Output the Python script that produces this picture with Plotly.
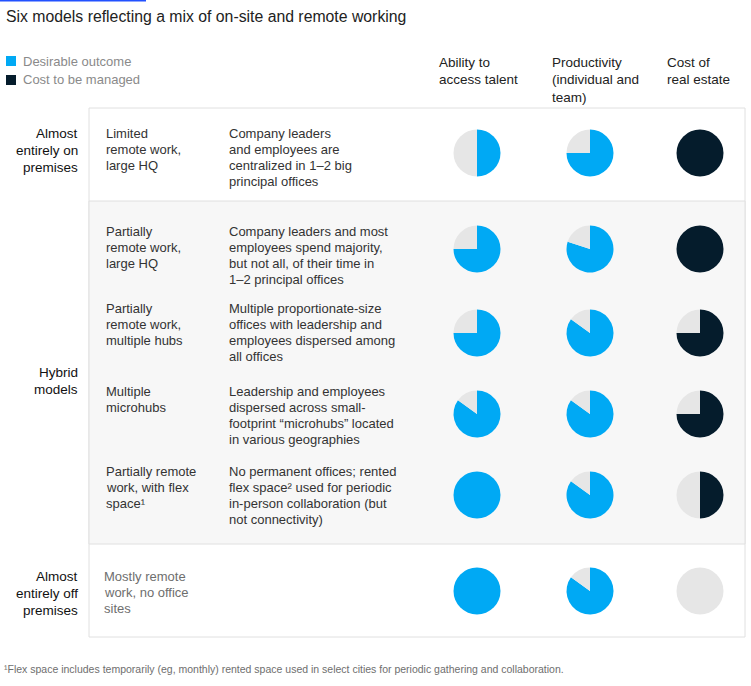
import plotly.graph_objects as go

W, H = 751, 686

# ---------------- data ----------------
title = "Six models reflecting a mix of on-site and remote working"
legend_labels = ["Desirable outcome", "Cost to be managed"]
metric_headers = [
    ["Ability to", "access talent"],
    ["Productivity", "(individual and", "team)"],
    ["Cost of", "real estate"],
]
group_labels = [
    ["Almost", "entirely on", "premises"],
    ["Hybrid", "models"],
    ["Almost", "entirely off", "premises"],
]
model_names = [
    ["Limited", "remote work,", "large HQ"],
    ["Partially", "remote work,", "large HQ"],
    ["Partially", "remote work,", "multiple hubs"],
    ["Multiple", "microhubs"],
    ["Partially remote", "work, with flex", "space¹"],
    ["Mostly remote", "work, no office", "sites"],
]
model_descs = [
    ["Company leaders", "and employees are", "centralized in 1–2 big", "principal offices"],
    ["Company leaders and most", "employees spend majority,", "but not all, of their time in", "1–2 principal offices"],
    ["Multiple proportionate-size", "offices with leadership and", "employees dispersed among", "all offices"],
    ["Leadership and employees", "dispersed across small-", "footprint “microhubs” located", "in various geographies"],
    ["No permanent offices; rented", "flex space² used for periodic", "in-person collaboration (but", "not connectivity)"],
    [],
]
# share of each pie filled (desirable outcome / cost to be managed)
talent = [0.5, 0.75, 0.75, 0.85, 1.0, 1.0]
productivity = [0.75, 0.8, 0.85, 0.85, 0.85, 0.85]
real_estate_cost = [1.0, 1.0, 0.75, 0.75, 0.5, 0.0]
footnote = "¹Flex space includes temporarily (eg, monthly) rented space used in select cities for periodic gathering and collaboration."

# ---------------- layout / style ----------------
BLUE = "#00A9F4"
DARK = "#051C2C"
GREY = "#E6E6E6"
FONT = "Liberation Sans, Arial, sans-serif"
LINE = 16.2
PAD = 2  # annotation inner padding compensation

pie_cx = [477, 590, 700]
pie_r = 23.5
row_cy = [153, 249, 333, 414, 495, 591]
row_text_y = [133, 231, 308, 391, 471, 576]
group_text_y = [133, 372, 576]
model_x = [106, 106, 106, 106, 106, 104]
desc_x = 229


def px(x):
    return x / W


def py(y):
    return 1 - y / H


fig = go.Figure()
annotations = []
shapes = []


def add_lines(x, y0, lines, size=13, color="#333333", anchor="left", spacing=LINE):
    xx = x - PAD if anchor == "left" else x + PAD
    for i, t in enumerate(lines):
        annotations.append(dict(
            x=px(xx), y=py(y0 + i * spacing), xref="paper", yref="paper",
            text=t, showarrow=False, xanchor=anchor, yanchor="middle",
            font=dict(family=FONT, size=size, color=color),
        ))


def rect(x0, y0, x1, y1, fill, line=None, width=0):
    shapes.append(dict(
        type="rect", xref="paper", yref="paper",
        x0=px(x0), x1=px(x1), y0=py(y1), y1=py(y0),
        fillcolor=fill, line=dict(color=line or fill, width=width), layer="below",
    ))


# top accent
rect(0, 0, 146, 1.5, "#2251FF")
# table frame and shaded hybrid section
rect(89, 108, 745, 637, "#FFFFFF", "#E0E0E0", 1)
rect(89, 201, 745, 544, "#F7F7F7", "#E0E0E0", 1)

# title
add_lines(6, 17, [title], size=15.8, color="#222222")
# legend
for i, (lab, col) in enumerate(zip(legend_labels, [BLUE, DARK])):
    yc = 61 + i * 19
    rect(6, yc - 5, 16, yc + 5, col)
    add_lines(23, yc, [lab], size=13, color="#8A8A8A")

# metric headers
for hx, lines in zip([439, 552, 667], metric_headers):
    add_lines(hx, 63, lines, size=13.5, color="#222222", spacing=17)

# group labels
for gy, lines in zip(group_text_y, group_labels):
    add_lines(78, gy, lines, size=13.5, color="#111111", anchor="right", spacing=17)

# model rows
for i in range(len(model_names)):
    col = "#6E6E6E" if i == 5 else "#333333"
    add_lines(model_x[i], row_text_y[i], model_names[i], size=13, color=col)
    add_lines(desc_x, row_text_y[i], model_descs[i], size=13, color="#333333")

# footnote
add_lines(4, 669, [footnote], size=10.5, color="#6E6E6E")

# pies
series = [(talent, BLUE), (productivity, BLUE), (real_estate_cost, DARK)]
for ci, (vals, colr) in enumerate(series):
    for ri, v in enumerate(vals):
        cx, cy = pie_cx[ci], row_cy[ri]
        fig.add_trace(go.Pie(
            values=[v, 1 - v], sort=False, direction="clockwise", rotation=0,
            marker=dict(colors=[colr, GREY], line=dict(width=0)),
            textinfo="none", hoverinfo="skip", showlegend=False,
            domain=dict(x=[px(cx - pie_r), px(cx + pie_r)],
                        y=[py(cy + pie_r), py(cy - pie_r)]),
        ))

fig.update_layout(
    width=W, height=H, margin=dict(l=0, r=0, t=0, b=0),
    paper_bgcolor="white", plot_bgcolor="white",
    annotations=annotations, shapes=shapes,
)

fig.write_html("out.html", config={"displayModeBar": False},
               post_script="document.body.style.margin='0';")
